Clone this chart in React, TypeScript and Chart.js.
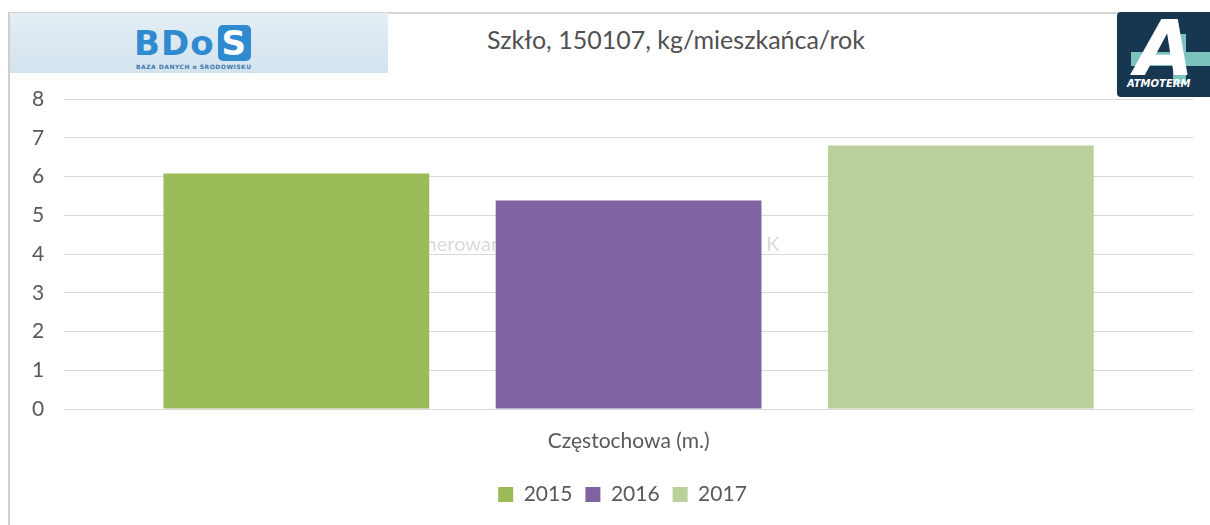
import React, { useEffect, useRef } from "react";
import { Chart, registerables } from "chart.js";

Chart.register(...registerables);

const categories = ["Częstochowa (m.)"];
const seriesLabels = ["2015", "2016", "2017"];
const values2015 = [6.08];
const values2016 = [5.38];
const values2017 = [6.8];
const seriesColors = ["#9bbb59", "#8064a2", "#bbd09a"];
const yMin = 0;
const yMax = 8;
const yStep = 1;
const titleText = "Szkło, 150107, kg/mieszkańca/rok";
const watermarkLeft = "Wygenerowano przez";
const watermarkRight = "K";

const FONT = "Lato, 'Open Sans', sans-serif";
const TEXT = "#595959";

const watermarkPlugin = {
  id: "watermark",
  beforeDatasetsDraw(chart: any) {
    const { ctx, chartArea } = chart;
    const cx = (chartArea.left + chartArea.right) / 2;
    const y = chartArea.top + (chartArea.bottom - chartArea.top) * 0.47;
    ctx.save();
    ctx.font = `20px ${FONT}`;
    ctx.fillStyle = "#dadada";
    ctx.textBaseline = "middle";
    const pre = ctx.measureText("Wyge").width;
    ctx.textAlign = "left";
    ctx.fillText(watermarkLeft, cx - 203 - pre, y);
    ctx.textAlign = "right";
    ctx.fillText(watermarkRight, cx + 151, y);
    ctx.restore();
  },
};

const legendShiftPlugin = {
  id: "legendShift",
  afterLayout(chart: any) {
    if (chart.legend) {
      chart.legend.left += 20;
      chart.legend.right += 20;
    }
  },
};

export default function App() {
  const ref = useRef<HTMLCanvasElement | null>(null);

  useEffect(() => {
    if (!ref.current) return;
    const data = [values2015, values2016, values2017];
    const chart = new Chart(ref.current, {
      type: "bar",
      data: {
        labels: categories,
        datasets: seriesLabels.map((label, i) => ({
          label,
          data: data[i],
          backgroundColor: seriesColors[i],
          borderWidth: 0,
          barPercentage: 0.8,
          categoryPercentage: 0.883,
        })),
      },
      options: {
        animation: false,
        responsive: false,
        maintainAspectRatio: false,
        layout: { padding: { left: 12, right: 17, top: 99, bottom: 10 } },
        scales: {
          x: {
            grid: { display: false },
            border: { display: false },
            ticks: {
              color: TEXT,
              padding: 6,
              font: { family: FONT, size: 21, lineHeight: 1.714 },
            },
          },
          y: {
            min: yMin,
            max: yMax,
            grid: { color: "#d9d9d9", drawTicks: false, lineWidth: 1 },
            border: { display: false },
            ticks: {
              stepSize: yStep,
              color: TEXT,
              padding: 20,
              font: { family: FONT, size: 21 },
            },
          },
        },
        plugins: {
          title: { display: false },
          tooltip: { enabled: false },
          legend: {
            position: "bottom",
            title: {
              display: true,
              text: "",
              padding: 0,
              font: { family: FONT, size: 6, lineHeight: 1 },
            },
            labels: {
              color: TEXT,
              boxWidth: 15,
              boxHeight: 15,
              padding: 13,
              font: { family: FONT, size: 21 },
            },
          },
        },
      },
      plugins: [watermarkPlugin, legendShiftPlugin],
    });
    return () => chart.destroy();
  }, []);

  return (
    <div
      style={{
        position: "fixed",
        left: 0,
        top: 0,
        width: 1210,
        height: 525,
        background: "#ffffff",
        overflow: "hidden",
      }}
    >
      <div style={{ position: "absolute", left: 9, top: 12, width: 1186, height: 2, background: "#d6d6d6" }} />
      <div style={{ position: "absolute", left: 8, top: 12, width: 2, height: 513, background: "#cfcfcf" }} />
      <div
        style={{
          position: "absolute",
          left: 10,
          top: 13,
          width: 378,
          height: 60,
          background: "linear-gradient(to bottom, #e4eef5, #d3e3ee)",
        }}
      >
        <div
          style={{
            position: "absolute",
            left: 124,
            top: 12,
            fontFamily: "'DejaVu Sans', Arial, sans-serif",
            fontWeight: 700,
            fontSize: 34,
            color: "#2f8ad0",
            letterSpacing: 1,
            lineHeight: "36px",
            whiteSpace: "nowrap",
          }}
        >
          BDo
          <span
            style={{
              display: "inline-block",
              marginLeft: 3,
              background: "#2f8ad0",
              color: "#ffffff",
              borderRadius: 5,
              padding: "0 4px",
              lineHeight: "36px",
            }}
          >
            S
          </span>
        </div>
        <div
          style={{
            position: "absolute",
            left: 126,
            top: 50,
            fontFamily: "'DejaVu Sans', Arial, sans-serif",
            fontWeight: 700,
            fontSize: 6,
            color: "#3a78b0",
            letterSpacing: 0.5,
            whiteSpace: "nowrap",
          }}
        >
          BAZA DANYCH o ŚRODOWISKU
        </div>
      </div>
      <div
        style={{
          position: "absolute",
          left: 400,
          width: 552,
          top: 24,
          textAlign: "center",
          fontFamily: FONT,
          fontSize: 25,
          color: "#505050",
          whiteSpace: "nowrap",
        }}
      >
        {titleText}
      </div>
      <div
        style={{
          position: "absolute",
          left: 1117,
          top: 12,
          width: 100,
          height: 85,
          background: "#17364f",
          borderRadius: 4,
          overflow: "hidden",
        }}
      >
        <div style={{ position: "absolute", left: 14, top: 40, width: 80, height: 14, background: "#7cc3bd" }} />
        <div style={{ position: "absolute", left: 56, top: 22, width: 13, height: 50, background: "#7cc3bd" }} />
        <div
          style={{
            position: "absolute",
            left: 18,
            top: -8,
            fontFamily: "'DejaVu Sans', Arial, sans-serif",
            fontWeight: 700,
            fontStyle: "italic",
            fontSize: 76,
            color: "#ffffff",
            lineHeight: "90px",
          }}
        >
          A
        </div>
        <div
          style={{
            position: "absolute",
            left: 10,
            top: 66,
            fontFamily: "'DejaVu Sans', Arial, sans-serif",
            fontWeight: 700,
            fontStyle: "italic",
            fontSize: 10,
            color: "#ffffff",
            whiteSpace: "nowrap",
          }}
        >
          ATMOTERM
        </div>
      </div>
      <canvas ref={ref} width={1210} height={525} style={{ position: "absolute", left: 0, top: 0 }} />
    </div>
  );
}
